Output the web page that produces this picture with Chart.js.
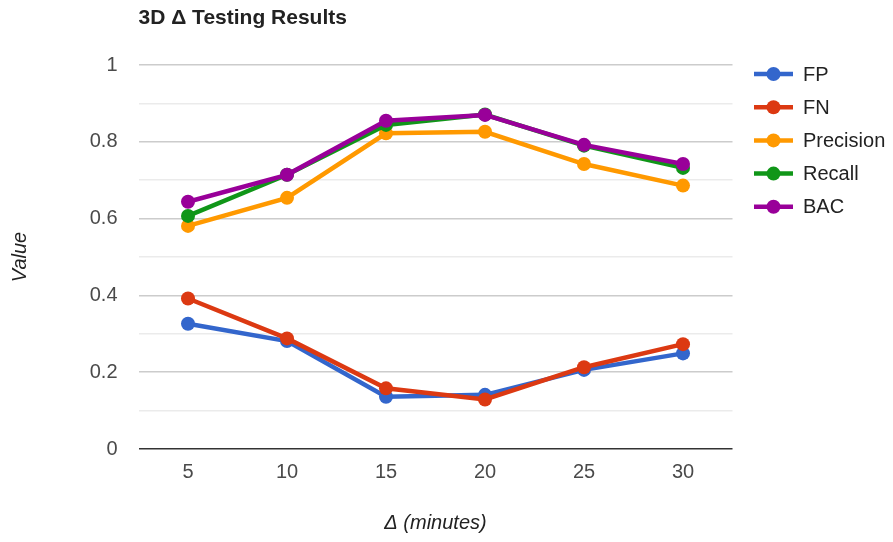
<!DOCTYPE html>
<html>
<head>
<meta charset="utf-8">
<script src="https://cdn.jsdelivr.net/npm/chart.js@4"></script>
<style>
  html, body { margin: 0; padding: 0; background: #fff; }
  #wrap { width: 893px; height: 542px; }
</style>
</head>
<body>
<div id="wrap"><canvas id="chart" width="893" height="542"></canvas></div>
<script>
// Δ in minutes
const deltas = ['5', '10', '15', '20', '25', '30'];

const fp        = [0.326, 0.281, 0.136, 0.141, 0.206, 0.249];
const fn        = [0.392, 0.288, 0.158, 0.129, 0.213, 0.273];
const precision = [0.581, 0.654, 0.822, 0.826, 0.742, 0.686];
const recall    = [0.607, 0.714, 0.844, 0.871, 0.790, 0.732];
const bac       = [0.644, 0.714, 0.855, 0.870, 0.792, 0.742];

const seriesNames  = ['FP', 'FN', 'Precision', 'Recall', 'BAC'];
const seriesValues = [fp, fn, precision, recall, bac];
const seriesColors = ['#3366CC', '#DC3912', '#FF9900', '#109618', '#990099'];

const FONT = "'Liberation Sans', Arial, sans-serif";

const datasets = seriesNames.map((name, i) => ({
  label: name,
  data: seriesValues[i],
  borderColor: seriesColors[i],
  backgroundColor: seriesColors[i],
  pointBackgroundColor: seriesColors[i],
  pointBorderColor: seriesColors[i],
  borderWidth: 4.5,
  pointRadius: 7,
  pointHoverRadius: 7,
  pointBorderWidth: 0,
  tension: 0,
  fill: false,
  // later series are painted on top
  order: seriesNames.length - i
}));

// Title and right-hand legend (line + dot swatches)
const decorations = {
  id: 'decorations',
  afterDraw(chart) {
    const ctx = chart.ctx;
    ctx.save();
    ctx.fillStyle = '#222';
    ctx.font = "bold 21px " + FONT;
    ctx.textBaseline = 'middle';
    ctx.textAlign = 'left';
    ctx.fillText('3D Δ Testing Results', chart.chartArea.left, 18);

    chart.data.datasets.forEach((ds, i) => {
      const y = 74 + i * 33.2;
      ctx.strokeStyle = ds.borderColor;
      ctx.lineWidth = 4.5;
      ctx.beginPath();
      ctx.moveTo(754, y);
      ctx.lineTo(793, y);
      ctx.stroke();
      ctx.fillStyle = ds.borderColor;
      ctx.beginPath();
      ctx.arc(773.5, y, 7, 0, Math.PI * 2);
      ctx.fill();
      ctx.fillStyle = '#222';
      ctx.font = "20px " + FONT;
      ctx.fillText(ds.label, 803, y + 1);
    });
    ctx.restore();
  }
};

new Chart(document.getElementById('chart'), {
  type: 'line',
  data: { labels: deltas, datasets },
  options: {
    responsive: false,
    animation: false,
    devicePixelRatio: 1,
    layout: { padding: { top: 65, right: 160.5, left: 0, bottom: 0 } },
    plugins: {
      legend: { display: false },
      title: { display: false },
      tooltip: { enabled: false }
    },
    scales: {
      x: {
        offset: true,
        grid: { display: false },
        border: { display: false },
        ticks: { color: '#4a4a4a', font: { family: FONT, size: 20 }, padding: 3 },
        title: {
          display: true,
          text: 'Δ (minutes)',
          color: '#222',
          font: { family: FONT, size: 20, style: 'italic' },
          padding: { top: 0, bottom: 7 }
        },
        afterFit(scale) { scale.height = 93; }
      },
      y: {
        min: 0,
        max: 1,
        border: { display: false },
        grid: {
          drawTicks: false,
          lineWidth: 1.5,
          color(c) {
            const v = Math.round(c.tick.value * 10);
            if (v === 0) return '#333';
            return v % 2 === 0 ? '#cccccc' : '#ebebeb';
          }
        },
        ticks: {
          stepSize: 0.1,
          color: '#4a4a4a',
          font: { family: FONT, size: 20 },
          padding: 21,
          callback(value) {
            const v = Math.round(value * 10);
            return v % 2 === 0 ? String(v / 10) : '';
          }
        },
        title: {
          display: true,
          text: 'Value',
          color: '#222',
          font: { family: FONT, size: 20, style: 'italic' },
          padding: { top: 8, bottom: 0 }
        },
        afterFit(scale) { scale.width = 138.5; }
      }
    }
  },
  plugins: [decorations]
});
</script>
</body>
</html>
